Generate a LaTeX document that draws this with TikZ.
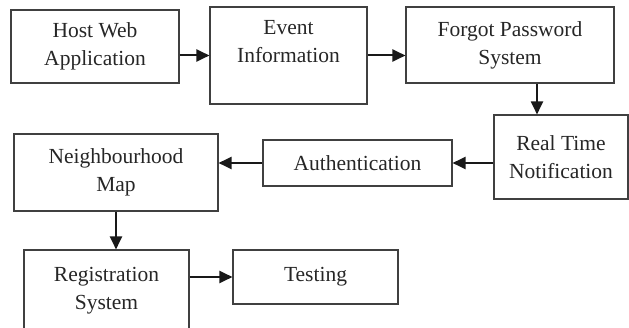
\documentclass[tikz,border=0pt]{standalone}
\usepackage{fontspec}
\setmainfont{Liberation Serif}
\usetikzlibrary{positioning, calc, arrows.meta}

\begin{document}
\begin{tikzpicture}[x=1pt, y=-1pt]
  \tikzstyle{procbox}=[draw=black!75, line width=1.1pt, inner sep=0pt, align=center,
  font=\fontsize{21.5}{28}\selectfont, text=black!85]
  \tikzstyle{flow}=[-{Triangle[length=13pt, width=12pt]}, line width=2pt, black!90]

  \useasboundingbox (0,0) rectangle (629,328);

  % top row
  \node (host) at (95,46.5) [procbox, minimum width=168pt, minimum height=73pt] {Host Web\\Application};
  \node (event) at (288.5,55.5) [procbox, minimum width=157pt, minimum height=97pt] {Event\\Information\\ \mbox{}};
  \node (forgot) at (510,45) [procbox, minimum width=208pt, minimum height=76pt] {Forgot Password\\System};

  % middle row
  \node (notif) at (561,157) [procbox, minimum width=134pt, minimum height=84pt] {Real Time\\Notification};
  \node (auth) at (357.5,163) [procbox, minimum width=189pt, minimum height=46pt] {Authentication};
  \node (neigh) at (116,172.5) [procbox, minimum width=204pt, minimum height=77pt] {Neighbourhood\\Map};

  % bottom row
  \node (regis) at (106.5,291) [procbox, minimum width=165pt, minimum height=82pt] {Registration\\System};
  \node (testing) at (315.5,277) [procbox, minimum width=165pt, minimum height=54pt] {Testing};

  \draw[flow] (host.east |- event) -- (event.west);
  \draw[flow] (event.east) -- (event.east -| forgot.west);
  \draw[flow] ([xshift=27pt]forgot.south) -- ([xshift=27pt]forgot.south |- notif.north);
  \draw[flow] (notif.west |- auth) -- (auth.east);
  \draw[flow] (auth.west) -- (auth.west -| neigh.east);
  \draw[flow] (neigh.south) -- (neigh.south |- regis.north);
  \draw[flow] (regis.east |- testing) -- (testing.west);

\end{tikzpicture}
\end{document}
